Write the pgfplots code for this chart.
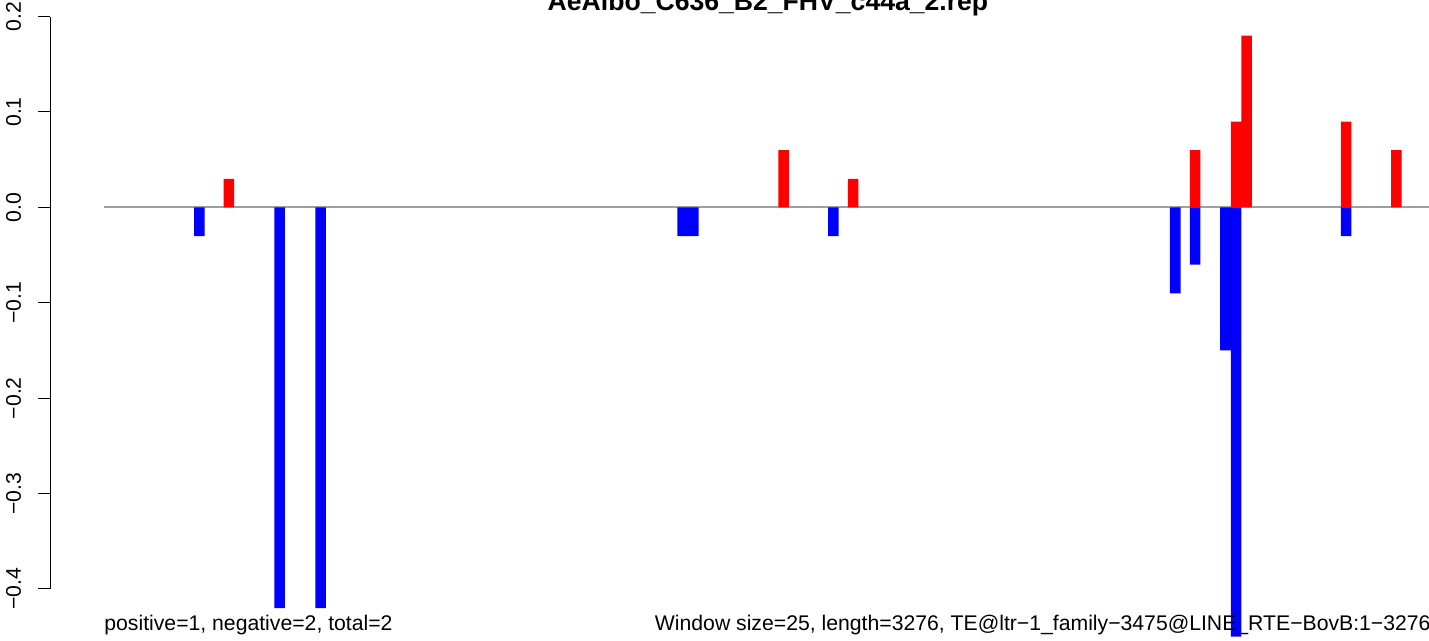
\documentclass[border=0pt]{standalone}
\usepackage{fontspec}
\setmainfont{Liberation Sans}
\usepackage{pgfplots}
\pgfplotsset{compat=1.18}

\begin{document}
\begin{tikzpicture}[font=\fontsize{10.6}{12.7}\selectfont]
\begin{axis}[
    scale only axis,
    width=690.5pt, height=286.2pt,
    xmin=-258, xmax=3014,
    ymin=-0.4, ymax=0.2,
    axis x line=none,
    axis y line*=left,
    xtick=\empty,
    ytick={-0.4,-0.3,-0.2,-0.1,0,0.1,0.2},
    yticklabels={−0.4,−0.3,−0.2,−0.1,0.0,0.1,0.2},
    tick align=outside,
    major tick length=6pt,
    ytick style={black, line width=0.5pt},
    y axis line style={line width=0.5pt},
    yticklabel style={rotate=90, anchor=base, inner sep=0pt},
    yticklabel shift=8.5pt,
    clip=false,
]
% zero line
\addplot[gray!75, line width=1pt] coordinates {(-130,0) (3014,0)};
% negative windows
\addplot[ybar, bar width=25, bar shift=0pt, fill=blue, draw=none] coordinates {
    (96,-0.03) (286,-0.42) (383,-0.42) (1241,-0.03) (1266,-0.03)
    (1598,-0.03) (2408,-0.09) (2455,-0.06) (2527,-0.15) (2552,-0.45)
    (2813,-0.03)
};
% positive windows
\addplot[ybar, bar width=25, bar shift=0pt, fill=red, draw=none] coordinates {
    (166,0.03) (1480,0.06) (1645,0.03) (2455,0.06) (2552,0.09)
    (2577,0.18) (2813,0.09) (2932,0.06)
};
\coordinate (O) at (rel axis cs:0,0);
\end{axis}
\node[anchor=base, font=\fontsize{13.3}{16}\selectfont\bfseries] at ([shift={(359pt,289pt)}]O) {AeAlbo\_C636\_B2\_FHV\_c44a\_2.rep};
\node[anchor=base west, inner sep=0pt] at ([shift={(27pt,-21pt)}]O) {positive=1, negative=2, total=2};
\node[anchor=base east, inner sep=0pt] at ([shift={(690.5pt,-21pt)}]O) {Window size=25, length=3276, TE@ltr−1\_family−3475@LINE\_RTE−BovB:1−3276};
\pgfresetboundingbox
\path[use as bounding box] ([shift={(-25pt,-26pt)}]O) rectangle ([shift={(689.5pt,294.5pt)}]O);
\end{tikzpicture}
\end{document}
